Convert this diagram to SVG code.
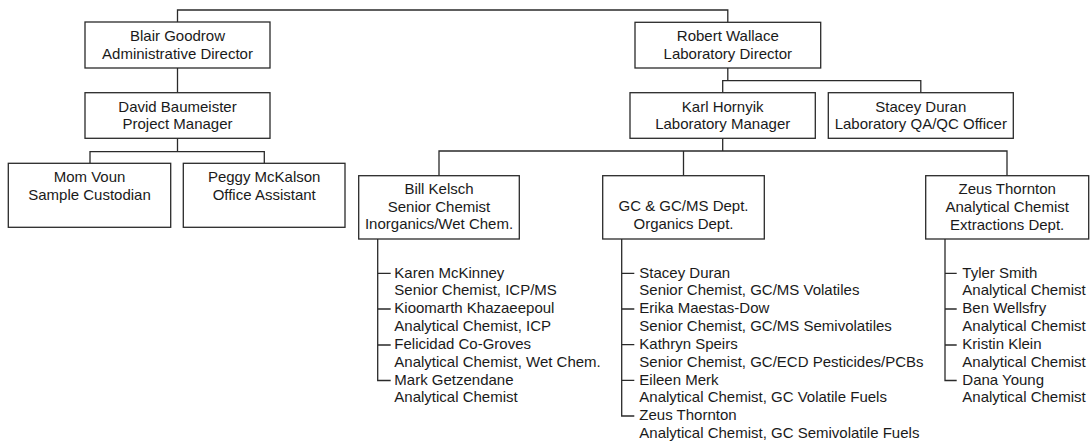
<svg xmlns="http://www.w3.org/2000/svg" width="1090" height="442" viewBox="0 0 1090 442">
<style>
.box{fill:#fff;stroke:#2a2a2a;stroke-width:1.3}
.ln{fill:none;stroke:#2a2a2a;stroke-width:1.3}
text{font-family:"Liberation Sans",Arial,sans-serif;font-size:15px;fill:#1a1a1a}
.c{text-anchor:middle}
</style>
<rect width="1090" height="442" fill="#fff"/>
<g id="connectors" class="ln">
<path d="M177.5 22V10H727.8V22"/>
<path d="M177.5 68V92.7"/>
<path d="M177.5 138.3V151.7M90 163.3V151.7H264.3V163.3"/>
<path d="M727.8 68V80.7M722.7 92.7V80.7H920.8V92.7"/>
<path d="M722.7 138.3V151M439 175.7V151H1007V175.7M683.5 151V175.7"/>
<path d="M377.7 239V380.5H390.7M377.7 273.3H390.7M377.7 309H390.7M377.7 345H390.7"/>
<path d="M621.7 239V416H634.3M621.7 273.3H634.3M621.7 309H634.3M621.7 344.7H634.3M621.7 380.4H634.3"/>
<path d="M945 239V380.5H956.7M945 273.3H956.7M945 309H956.7M945 345H956.7"/>
</g>
<g id="blair"><rect class="box" x="85" y="22" width="185" height="46"/><text class="c" x="177.5" y="41">Blair Goodrow</text><text class="c" x="177.5" y="58.7">Administrative Director</text></g>
<g id="david"><rect class="box" x="85" y="92.7" width="185" height="45.6"/><text class="c" x="177.5" y="111.7">David Baumeister</text><text class="c" x="177.5" y="129.3">Project Manager</text></g>
<g id="mom"><rect class="box" x="8.3" y="163.3" width="162.4" height="64"/><text class="c" x="89.5" y="182.3">Mom Voun</text><text class="c" x="89.5" y="200">Sample Custodian</text></g>
<g id="peggy"><rect class="box" x="183.3" y="163.3" width="161.7" height="64"/><text class="c" x="264.2" y="182.3">Peggy McKalson</text><text class="c" x="264.2" y="200">Office Assistant</text></g>
<g id="robert"><rect class="box" x="635" y="22.3" width="185.7" height="45.7"/><text class="c" x="727.8" y="41">Robert Wallace</text><text class="c" x="727.8" y="58.7">Laboratory Director</text></g>
<g id="karl"><rect class="box" x="630" y="92.7" width="185.3" height="45.6"/><text class="c" x="722.7" y="111.7">Karl Hornyik</text><text class="c" x="722.7" y="129.3">Laboratory Manager</text></g>
<g id="stacey"><rect class="box" x="828.3" y="92.7" width="185" height="45.6"/><text class="c" x="920.8" y="111.7">Stacey Duran</text><text class="c" x="920.8" y="129.3">Laboratory QA/QC Officer</text></g>
<g id="bill"><rect class="box" x="358.7" y="175.7" width="160.6" height="63.3"/><text class="c" x="439" y="193.6">Bill Kelsch</text><text class="c" x="439" y="211.5">Senior Chemist</text><text class="c" x="439" y="229.3">Inorganics/Wet Chem.</text></g>
<g id="gc"><rect class="box" x="602.7" y="175.7" width="161.6" height="63.3"/><text class="c" x="683.5" y="211">GC &amp; GC/MS Dept.</text><text class="c" x="683.5" y="228.6">Organics Dept.</text></g>
<g id="zeus"><rect class="box" x="925.7" y="175.7" width="163" height="63.3"/><text class="c" x="1007.2" y="194">Zeus Thornton</text><text class="c" x="1007.2" y="211.7">Analytical Chemist</text><text class="c" x="1007.2" y="229.6">Extractions Dept.</text></g>
<g id="bill-staff">
<text x="394.3" y="277.5">Karen McKinney</text>
<text x="394.3" y="295.35">Senior Chemist, ICP/MS</text>
<text x="394.3" y="313.2">Kioomarth Khazaeepoul</text>
<text x="394.3" y="331.05">Analytical Chemist, ICP</text>
<text x="394.3" y="348.9">Felicidad Co-Groves</text>
<text x="394.3" y="366.75">Analytical Chemist, Wet Chem.</text>
<text x="394.3" y="384.6">Mark Getzendane</text>
<text x="394.3" y="402.45">Analytical Chemist</text>
</g>
<g id="gc-staff">
<text x="639.3" y="277.5">Stacey Duran</text>
<text x="639.3" y="295.35">Senior Chemist, GC/MS Volatiles</text>
<text x="639.3" y="313.2">Erika Maestas-Dow</text>
<text x="639.3" y="331.05">Senior Chemist, GC/MS Semivolatiles</text>
<text x="639.3" y="348.9">Kathryn Speirs</text>
<text x="639.3" y="366.75">Senior Chemist, GC/ECD Pesticides/PCBs</text>
<text x="639.3" y="384.6">Eileen Merk</text>
<text x="639.3" y="402.45">Analytical Chemist, GC Volatile Fuels</text>
<text x="639.3" y="420.3">Zeus Thornton</text>
<text x="639.3" y="438.15">Analytical Chemist, GC Semivolatile Fuels</text>
</g>
<g id="zeus-staff">
<text x="962.3" y="277.5">Tyler Smith</text>
<text x="962.3" y="295.35">Analytical Chemist</text>
<text x="962.3" y="313.2">Ben Wellsfry</text>
<text x="962.3" y="331.05">Analytical Chemist</text>
<text x="962.3" y="348.9">Kristin Klein</text>
<text x="962.3" y="366.75">Analytical Chemist</text>
<text x="962.3" y="384.6">Dana Young</text>
<text x="962.3" y="402.45">Analytical Chemist</text>
</g>
</svg>
